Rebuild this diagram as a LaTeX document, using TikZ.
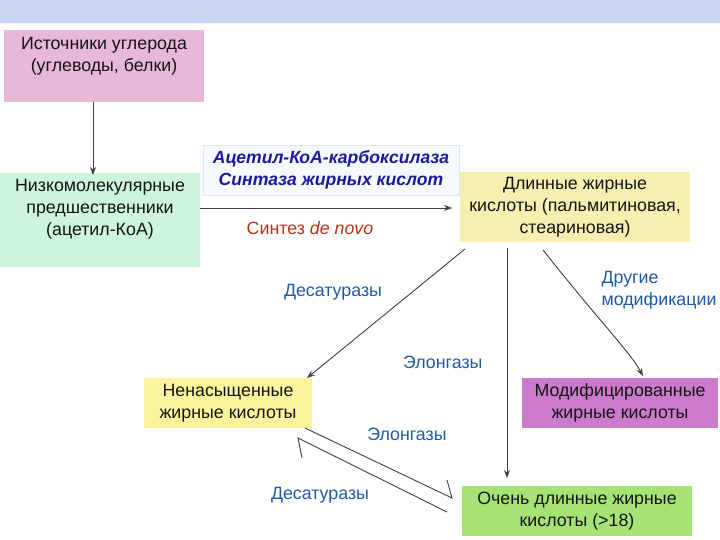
\documentclass[tikz,border=0pt]{standalone}
\usepackage{fontspec}
\setmainfont{Liberation Sans}
\usetikzlibrary{arrows.meta}
\definecolor{band}{HTML}{CAD6F2}
\definecolor{pinkbox}{HTML}{E8B8D8}
\definecolor{mintbox}{HTML}{CCF5DC}
\definecolor{paleyellow}{HTML}{F5F0B0}
\definecolor{brightyellow}{HTML}{FAF59C}
\definecolor{purplebox}{HTML}{CC7ACC}
\definecolor{limebox}{HTML}{A6E274}
\definecolor{labelblue}{HTML}{1E5AAA}
\definecolor{enzblue}{HTML}{1A1AA0}
\definecolor{redtext}{HTML}{B83214}
\definecolor{linegray}{HTML}{404040}
\definecolor{enzfill}{HTML}{F7FAFC}
\definecolor{enzdraw}{HTML}{DCE8EE}
\tikzset{
  boxshape/.style={rectangle, inner sep=0pt, draw=none},
  txt/.style={align=center, font=\fontsize{17.8}{21.8}\selectfont, text=black!92, inner sep=0pt},
  lbl/.style={align=left, font=\fontsize{17.8}{21.8}\selectfont, text=labelblue, inner sep=1pt},
  conn/.style={draw=linegray, line width=0.9pt, -{Stealth[length=8pt,width=6pt]}},
  harp/.style={draw=linegray, line width=0.9pt},
}
\begin{document}
\begin{tikzpicture}[x=1pt,y=-1pt]
\useasboundingbox (0,0) rectangle (720,540);
\fill[white] (0,0) rectangle (720,540);
\fill[band] (0,0) rectangle (720,23);

% boxes
\node[boxshape, fill=pinkbox, minimum width=200pt, minimum height=72pt] (src) at (104,66) {};
\node[txt] (srct) at (104,56) {Источники углерода\\(углеводы, белки)};

\node[boxshape, fill=mintbox, minimum width=200pt, minimum height=94pt] (pre) at (100,220) {};
\node[txt] (pret) at (100,209) {Низкомолекулярные\\предшественники\\(ацетил-КоА)};

\node[boxshape, fill=enzfill, draw=enzdraw, line width=0.6pt, minimum width=256pt, minimum height=50pt] (enz) at (331,170) {};
\node[txt, font=\fontsize{17.6}{21.5}\selectfont\bfseries\itshape, text=enzblue] (enzt) at (331,170) {Ацетил-КоА-карбоксилаза\\Синтаза жирных кислот};

\node[boxshape, fill=paleyellow, minimum width=230pt, minimum height=70pt] (long) at (575,207) {};
\node[txt] (longt) at (575,207) {Длинные жирные\\кислоты (пальмитиновая,\\стеариновая)};

\node[boxshape, fill=brightyellow, minimum width=168pt, minimum height=50pt] (unsat) at (228,403) {};
\node[txt] (unsatt) at (228,403) {Ненасыщенные\\жирные кислоты};

\node[boxshape, fill=purplebox, minimum width=196pt, minimum height=50pt] (mod) at (620,403) {};
\node[txt] (modt) at (620,403) {Модифицированные\\жирные кислоты};

\node[boxshape, fill=limebox, minimum width=230pt, minimum height=50pt] (vlong) at (577,511) {};
\node[txt] (vlongt) at (577,511) {Очень длинные жирные\\кислоты (>18)};

% connectors
\coordinate (srcb) at (93,102);
\coordinate (preT) at (93,175);
\draw[conn] (srcb) -- (preT);

\coordinate (deA) at (200,208);
\coordinate (deB) at (452,208);
\draw[conn] (deA) -- (deB);
\node[txt, text=redtext] (denovo) at (310,228) {Синтез \textit{de novo}};

\coordinate (l1) at (465,249);
\coordinate (u1) at (307,378);
\draw[conn] (l1) -- (u1);
\node[lbl] (desat1) at (333,292) {Десатуразы};

\coordinate (l2) at (507,248);
\coordinate (v1) at (507,478);
\draw[conn] (l2) -- (v1);
\node[lbl, fill=white, inner xsep=4pt, inner ysep=6pt, anchor=west] (elong1) at (399,362) {Элонгазы\hspace{16pt}};

\coordinate (l3) at (543,250);
\coordinate (m1) at (643,376);
\draw[conn] (l3) .. controls (600,322) and (630,352) .. (m1);
\node[lbl] (other) at (659,290) {Другие\\модификации};

% harpoons between unsaturated and very long
\coordinate (hA1) at (305,428);
\coordinate (hA2) at (452,498);
\coordinate (hA3) at (447,480);
\draw[harp] (hA1) -- (hA2) -- (hA3);
\coordinate (hB1) at (447,512);
\coordinate (hB2) at (298,438);
\coordinate (hB3) at (302,458);
\draw[harp] (hB1) -- (hB2) -- (hB3);
\node[lbl] (elong2) at (407,434) {Элонгазы};
\node[lbl] (desat2) at (320,495) {Десатуразы};
\end{tikzpicture}
\end{document}
